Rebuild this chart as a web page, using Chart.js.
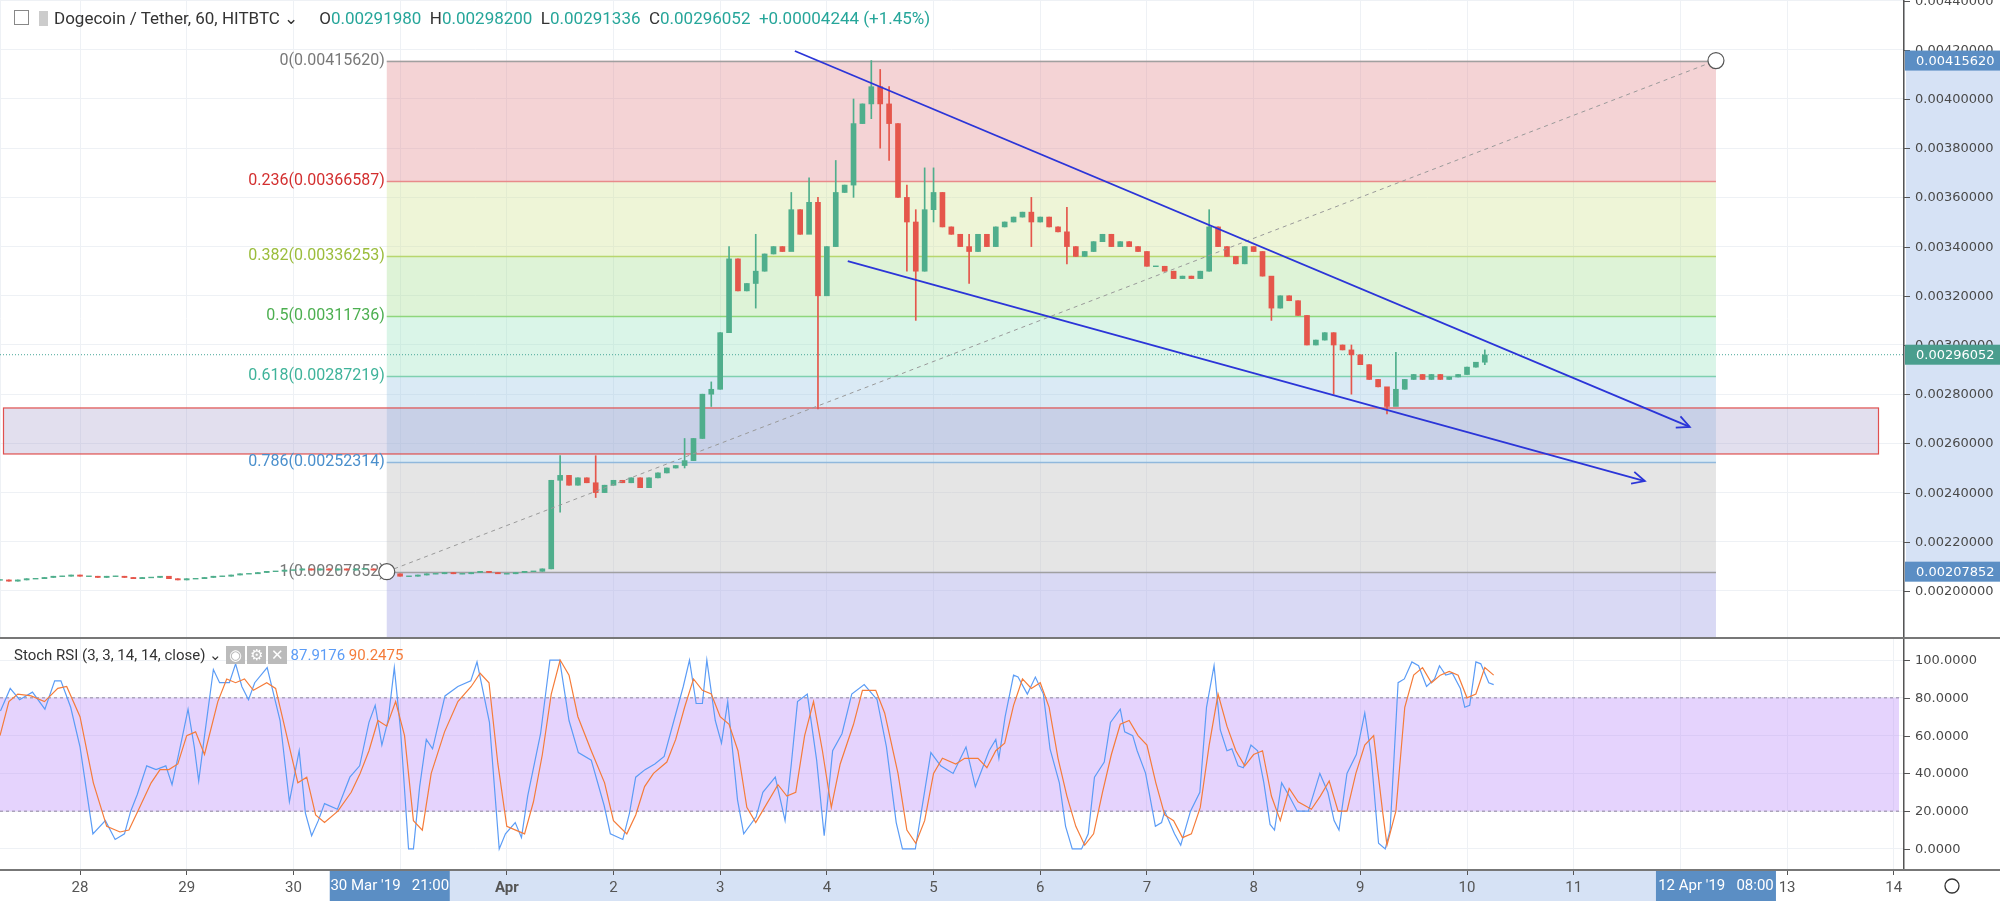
<!DOCTYPE html>
<html><head><meta charset="utf-8">
<script src="https://cdn.jsdelivr.net/npm/chart.js@4.4.1/dist/chart.umd.min.js"></script>
<style>
body{margin:0;background:#fff;width:2000px;height:901px;overflow:hidden;font-family:"Open Sans",Roboto,sans-serif;position:relative}
canvas{position:absolute;left:0}
#hdr{position:absolute;left:14px;top:8px;font-size:17px;color:#333;white-space:nowrap;font-family:Roboto,sans-serif}
#hdr .v{color:#26a69a}
#shdr{position:absolute;left:14px;top:646px;font-size:15px;color:#333;white-space:nowrap;font-family:Roboto,sans-serif}
</style></head><body>
<canvas id="main" width="2000" height="637" style="top:0"></canvas>
<canvas id="stoch" width="2000" height="264" style="top:637px"></canvas>
<div id="hdr"><span style="display:inline-block;width:13px;height:13px;border:1px solid #888;vertical-align:-1px;margin-right:10px"></span><span style="display:inline-block;width:9px;height:15px;background:#ccc;vertical-align:-2px;margin-right:6px"></span>Dogecoin / Tether, 60, HITBTC &#8964; &nbsp;&nbsp;&nbsp;&nbsp;O<span class="v">0.00291980</span> &nbsp;H<span class="v">0.00298200</span> &nbsp;L<span class="v">0.00291336</span> &nbsp;C<span class="v">0.00296052</span> &nbsp;<span class="v">+0.00004244 (+1.45%)</span></div>
<div id="shdr">Stoch RSI (3, 3, 14, 14, close) &#8964; <span style="background:#bbb;color:#fff;padding:0 3px">&#9673;</span><span style="background:#bbb;color:#fff;padding:0 3px;margin-left:2px">&#9881;</span><span style="background:#bbb;color:#fff;padding:0 3px;margin-left:2px">&#10005;</span> <span style="color:#5b9cf6">87.9176</span> <span style="color:#f57c3a">90.2475</span></div>
<script>
// ---- data ----
const candleStartHour = 6, candleStep = 2; // hours since 27 Mar 00:00
const closes = [
0.002045,0.00204,0.002045,0.00205,0.00205,0.002055,0.00206,0.00206,0.002065,0.00206,0.00206,0.002055,0.00206,0.00206,0.002055,0.00205,0.002055,0.002055,0.00206,0.00205,0.002045,0.00205,0.00205,0.002055,0.00206,0.00206,0.002065,0.00207,0.00207,0.002075,0.00208,0.00208,0.002085,0.002085,0.00209,0.002085,0.00209,0.002085,0.00209,0.002085,0.00209,0.00209,0.002085,0.00208,
0.00207,0.00206,0.00206,0.002065,0.00207,0.00207,0.002075,0.00207,0.00207,0.002075,0.00208,0.002075,0.00207,0.00207,0.002075,0.00208,0.00208,0.00209,
0.00245,0.00247,0.00243,0.00246,0.00244,0.00240,0.00243,0.00245,0.00244,0.00246,0.00242,0.00246,0.00248,0.00250,0.00251,0.00253,
0.00262,0.0028,0.00282,0.00305,0.00335,0.00322,0.00325,0.0033,0.00337,0.0034,0.00338,0.00355,0.00345,0.00358,0.0032,0.0034,0.00362,0.00365,0.0039,0.00398,
0.00405,0.00398,0.0039,0.0036,0.0035,0.0033,0.00355,0.00362,0.00348,0.00345,0.0034,0.00338,0.00345,0.0034,0.00348,0.0035,0.00352,0.00354,0.0035,0.00352,
0.00348,0.00346,0.0034,0.00336,0.00338,0.00342,0.00345,0.0034,0.00342,0.0034,0.00338,0.00332,0.00332,0.0033,0.00327,0.00328,0.00327,0.0033,0.00348,0.0034,
0.00336,0.00333,0.0034,0.00338,0.00328,0.00315,0.0032,0.00318,0.00312,0.003,0.00302,0.00305,0.003,0.00298,0.00296,0.00292,0.00286,0.00283,0.00275,0.00282,
0.00286,0.00288,0.00286,0.00288,0.00286,0.00287,0.00288,0.00291,0.00293,0.00296];
const wicks = [[132,0.00232,0.00255],[140,0.00238,0.00255],[160,0.00250,0.00262],[166,0.00275,0.00285],[170,0.00310,0.00340],[176,0.00315,0.00345],[184,0.00340,0.00362],[188,0.00350,0.00368],[190,0.00274,0.00360],[194,0.00340,0.00375],[198,0.00360,0.00400],[202,0.00392,0.0041562],[204,0.00380,0.00412],[206,0.00375,0.00405],[210,0.00330,0.00365],[212,0.00310,0.00355],[214,0.00330,0.00372],[216,0.00350,0.00372],[224,0.00325,0.00345],[238,0.00340,0.00360],[246,0.00333,0.00356],[278,0.00330,0.00355],[292,0.00310,0.00325],[306,0.00280,0.00305],[310,0.00280,0.00300],[318,0.00272,0.00280],[320,0.00276,0.00297],[340,0.00292,0.00298]];
const stochK = [[6.1,73],[8.3,85],[10.4,79],[13.3,83],[16.1,74],[18.3,89],[19.7,89],[21.9,75],[24,54],[26.9,8],[29.7,15],[31.9,5],[34,8],[35.4,20],[36.9,29],[39,44],[41.1,42],[43.3,44],[44.7,34],[46.9,58],[48.3,74],[49.7,54],[50.7,36],[51.9,58],[54,95],[55.4,88],[57.6,88],[59,98],[60.4,86],[61.9,79],[63.3,88],[66.1,96],[69,68],[71.1,25],[73.3,52],[74.7,19],[76.1,7],[77.6,15],[79,24],[81.9,21],[84.7,38],[86.9,44],[89,67],[90.4,76],[91.9,55],[93.3,68],[94.7,96],[96.1,63],[97.9,0],[99,0],[100.4,33],[101.9,58],[103.3,53],[106.1,81],[109,86],[111.9,89],[113.3,99],[116.1,67],[118.3,0],[119.7,8],[121.9,14],[123.3,6],[124.7,28],[127.6,61],[129.7,100],[131.9,100],[134,68],[136.1,51],[139,47],[141.9,23],[143.3,8],[146.1,5],[147.6,19],[149,38],[151.1,42],[153.3,45],[155.4,49],[157.6,68],[159.7,86],[161.1,100],[162.6,77],[164,77],[165,100],[166.9,68],[168.3,56],[169.7,78],[171.9,26],[173.3,8],[176.1,17],[177.6,30],[180.4,38],[182.6,15],[184,45],[185.4,78],[187.6,82],[189.7,47],[191.4,7],[193.3,52],[195.4,61],[197.6,82],[200.4,87],[203.3,79],[205.4,54],[207.6,14],[209,0],[211.9,0],[215.4,51],[217.6,44],[220.4,40],[223.3,54],[225.4,33],[228.5,52],[230,58],[230.7,48],[232.1,70],[234,92],[235,91],[237.1,82],[238.9,91],[240.7,82],[242.2,53],[244.3,35],[245.7,12],[247.2,0],[249.3,0],[250.8,8],[252.2,38],[254.4,46],[255.8,67],[258,74],[259,62],[260.8,60],[261.8,52],[263.7,40],[265.9,12],[267.3,14],[268,20],[270.2,8],[271.6,2],[273.8,20],[275.9,30],[277.4,75],[279.1,97],[280.5,63],[282,52],[283.1,53],[284.5,44],[285.7,43],[287.4,55],[288.9,52],[290.3,35],[291.7,13],[292.7,10],[294.3,35],[296,28],[297.8,20],[300.3,20],[302.9,40],[304.7,30],[306.1,15],[307.2,10],[309,40],[311.1,50],[313,72],[314.4,50],[316.1,3],[317.6,0],[318.7,10],[320.5,88],[321.9,90],[323.6,99],[325.1,97],[326.9,86],[328.7,90],[329.8,97],[331.2,92],[332.7,93],[334.5,85],[335.5,75],[336.6,76],[338,99],[339.1,98],[340.9,88],[342,87]];
const stochD = [[6,60],[8,78],[10,82],[13,81],[16,78],[19,85],[21,86],[24,70],[27,35],[30,12],[33,9],[35,10],[37,20],[40,35],[42,42],[44,42],[46,45],[48,60],[50,62],[52,50],[55,78],[57,90],[59,88],[61,90],[63,84],[66,88],[68,85],[71,55],[73,35],[75,38],[77,18],[79,14],[82,20],[85,30],[87,40],[89,52],[91,68],[93,65],[95,78],[97,60],[99,15],[101,10],[103,40],[106,62],[109,78],[112,86],[114,93],[116,88],[118,45],[120,12],[122,10],[124,8],[126,25],[128,50],[130,82],[132,100],[134,92],[136,70],[139,52],[142,35],[144,15],[147,8],[149,18],[151,33],[153,40],[156,46],[158,58],[160,75],[162,90],[164,84],[166,82],[168,70],[170,66],[172,52],[174,22],[176,14],[178,22],[181,34],[183,28],[185,30],[187,60],[189,78],[191,52],[193,22],[195,45],[198,66],[200,84],[203,84],[205,72],[208,40],[210,10],[212,3],[214,15],[216,40],[218,48],[221,45],[223,48],[226,48],[228,43],[230,52],[232,56],[234,76],[236,90],[238,85],[240,88],[242,75],[244,48],[246,28],[248,12],[250,2],[252,8],[254,30],[256,50],[258,66],[260,68],[262,60],[264,55],[266,35],[268,18],[270,15],[272,6],[274,8],[276,22],[278,55],[280,82],[282,65],[284,52],[286,44],[288,50],[290,52],[292,28],[294,15],[296,32],[298,25],[301,21],[303,28],[305,36],[307,20],[309,20],[311,40],[313,55],[315,60],[317,20],[318,2],[320,20],[322,75],[324,92],[326,96],[328,88],[330,92],[332,94],[334,92],[336,80],[338,82],[340,96],[342,92]];
const priceTicks = [0.0020,0.0022,0.0024,0.0026,0.0028,0.0030,0.0032,0.0034,0.0036,0.0038,0.0040,0.0042,0.0044];
const stochTicks = [0,20,40,60,80,100];
const fibLevels = [0,0.236,0.382,0.5,0.618,0.786,1];
const fibHigh = 0.0041562, fibLow = 0.00207852;
const fibStartHour = 93, fibEndHour = 392;
const lastPrice = 0.00296052;
const zoneBox = [0.002557, 0.002744];
const upperTrend = [[184.8,0.004195],[386.1,0.002667]];
const lowerTrend = [[196.7,0.003341],[376,0.002447]];
const dayNames = {1:'28',2:'29',3:'30',5:'Apr'};

// ---- build ----
const bodies=[], wickData=[], colors=[];
const wmap = {}; wicks.forEach(w=>wmap[w[0]]=w);
closes.forEach((c,i)=>{
  const h = candleStartHour + i*candleStep;
  const o = i===0 ? c : closes[i-1];
  const up = c>=o;
  colors.push(up?'#4fae8c':'#e5564b');
  bodies.push({x:h, y: o===c ? [o-0.0000015,c+0.0000015] : [o,c]});
  const w = wmap[h];
  wickData.push({x:h, y: w ? [w[1],w[2]] : [Math.min(o,c),Math.max(o,c)]});
});
const XMIN=6.0, XMAX=434.3, YW=96;
const AXFONT='13px "DejaVu Sans"';
function dayLabel(v){ const d=Math.round(v/24); if(dayNames[d]) return dayNames[d]; if(d>=6) return String(d-4); return ''; }

const fibFills=['rgba(226,140,145,0.38)','rgba(211,228,150,0.38)','rgba(160,220,140,0.35)','rgba(150,225,190,0.35)','rgba(150,195,225,0.35)','rgba(190,190,190,0.4)'];
const fibLine=['#a0a0a0','#e88a8a','#b8d66e','#8ed67c','#7fd0b0','#90b8dc','#a0a0a0'];
const fibText=['#787878','#d32f2f','#9bbd3c','#4caf50','#3fb39a','#4a8fcc','#787878'];

function yLabels(ch, ticks, fmt){
  const {ctx, scales:{y}, chartArea:a}=ch; ctx.save();
  ctx.font=AXFONT; ctx.fillStyle='#4a4a4a'; ctx.textAlign='left'; ctx.textBaseline='middle';
  ctx.strokeStyle='#555'; ctx.lineWidth=1;
  ticks.forEach(v=>{const yy=Math.round(y.getPixelForValue(v))+0.5; ctx.beginPath(); ctx.moveTo(a.right,yy); ctx.lineTo(a.right+6,yy); ctx.stroke(); ctx.fillText(fmt(v),a.right+11,yy);});
  ctx.restore();
}
const overlay = {
  id:'overlay',
  beforeDatasetsDraw(ch){
    const {ctx, scales:{x,y}, chartArea:a} = ch;
    ctx.save();
    const x0=x.getPixelForValue(fibStartHour), x1=x.getPixelForValue(fibEndHour);
    const lp = r=>fibHigh-r*(fibHigh-fibLow);
    for(let i=0;i<6;i++){
      const ya=y.getPixelForValue(lp(fibLevels[i])), yb=y.getPixelForValue(lp(fibLevels[i+1]));
      ctx.fillStyle=fibFills[i]; ctx.fillRect(x0,ya,x1-x0,yb-ya);
    }
    const yb1=y.getPixelForValue(fibLow);
    ctx.fillStyle='rgba(170,170,230,0.45)'; ctx.fillRect(x0,yb1,x1-x0,a.bottom-yb1);
    const zy0=y.getPixelForValue(zoneBox[1]), zy1=y.getPixelForValue(zoneBox[0]);
    ctx.fillStyle='rgba(160,150,200,0.3)'; ctx.fillRect(3,zy0,1875,zy1-zy0);
    ctx.strokeStyle='#e0504f'; ctx.lineWidth=1.2; ctx.strokeRect(3.5,zy0,1875,zy1-zy0);
    fibLevels.forEach((r,i)=>{
      const yy=Math.round(y.getPixelForValue(lp(r)))+0.5;
      ctx.strokeStyle=fibLine[i]; ctx.lineWidth=1.5; ctx.beginPath(); ctx.moveTo(x0,yy); ctx.lineTo(x1,yy); ctx.stroke();
      ctx.fillStyle=fibText[i]; ctx.font='16px Roboto'; ctx.textAlign='right'; ctx.textBaseline='middle';
      ctx.fillText(r+'('+lp(r).toFixed(8)+')', x0-2, yy-1);
    });
    const ly=y.getPixelForValue(lastPrice);
    ctx.setLineDash([1,2]); ctx.strokeStyle='#4aa89a'; ctx.lineWidth=1;
    ctx.beginPath(); ctx.moveTo(0,ly); ctx.lineTo(a.right,ly); ctx.stroke();
    ctx.restore();
  },
  afterDatasetsDraw(ch){
    const {ctx, scales:{x,y}, chartArea:a} = ch;
    ctx.save();
    const p0=[x.getPixelForValue(fibStartHour),y.getPixelForValue(fibLow)], p1=[x.getPixelForValue(fibEndHour),y.getPixelForValue(fibHigh)];
    ctx.setLineDash([4,4]); ctx.strokeStyle='#999'; ctx.lineWidth=1;
    ctx.beginPath(); ctx.moveTo(p0[0],p0[1]); ctx.lineTo(p1[0],p1[1]); ctx.stroke(); ctx.setLineDash([]);
    [p0,p1].forEach(p=>{ctx.beginPath(); ctx.arc(p[0],p[1],8,0,Math.PI*2); ctx.fillStyle='#fff'; ctx.fill(); ctx.strokeStyle='#555'; ctx.lineWidth=1.2; ctx.stroke();});
    [upperTrend,lowerTrend].forEach(t=>{
      const ax=x.getPixelForValue(t[0][0]), ay=y.getPixelForValue(t[0][1]);
      const bx=x.getPixelForValue(t[1][0]), by=y.getPixelForValue(t[1][1]);
      ctx.strokeStyle='#2b35d8'; ctx.lineWidth=1.8;
      ctx.beginPath(); ctx.moveTo(ax,ay); ctx.lineTo(bx,by); ctx.stroke();
      const ang=Math.atan2(by-ay,bx-ax), L=14;
      ctx.beginPath(); ctx.moveTo(bx-L*Math.cos(ang-0.45),by-L*Math.sin(ang-0.45)); ctx.lineTo(bx,by); ctx.lineTo(bx-L*Math.cos(ang+0.45),by-L*Math.sin(ang+0.45)); ctx.stroke();
    });
    const ax0=a.right+1;
    const yh=y.getPixelForValue(fibHigh), yl=y.getPixelForValue(fibLow);
    ctx.fillStyle='#d6e2f5'; ctx.fillRect(ax0+1,yh,2000-ax0,yl-yh);
    ctx.restore();
    yLabels(ch, priceTicks, v=>v.toFixed(8));
    ctx.save();
    const tag=(v,c)=>{const yy=y.getPixelForValue(v); ctx.fillStyle=c; ctx.fillRect(ax0,yy-10,2000-ax0,20); ctx.fillStyle='#fff'; ctx.font=AXFONT; ctx.textAlign='left'; ctx.textBaseline='middle'; ctx.fillText(v.toFixed(8),ax0+11,yy+1);};
    tag(fibHigh,'#5b8ec4'); tag(fibLow,'#5b8ec4'); tag(lastPrice,'#4a9e8e');
    ctx.restore();
  }
};
const fitY = s=>{s.width=YW;};
new Chart(document.getElementById('main'),{
  data:{datasets:[
    {type:'bar',data:wickData,backgroundColor:colors,barThickness:1,grouped:false,order:2},
    {type:'bar',data:bodies,backgroundColor:colors,barThickness:5,grouped:false,order:1}
  ]},
  options:{responsive:false,animation:false,devicePixelRatio:1,
    layout:{padding:0},
    plugins:{legend:{display:false},tooltip:{enabled:false}},
    scales:{
      x:{type:'linear',offset:false,min:XMIN,max:XMAX,ticks:{display:false,stepSize:24},grid:{color:'#eef1f5',drawTicks:false,offset:false},border:{display:false},afterFit:s=>{s.height=0;}},
      y:{position:'right',min:0.001813,max:0.0044024,afterFit:fitY,
        afterBuildTicks:s=>{s.ticks=priceTicks.map(v=>({value:v}));},
        ticks:{display:false},
        grid:{color:'#eef1f5',drawTicks:false},border:{color:'#555',width:1.5}}
    }},
  plugins:[overlay]
});

const stochPlug = {
  id:'sp',
  beforeDatasetsDraw(ch){
    const {ctx, scales:{x,y}, chartArea:a}=ch; ctx.save();
    const y80=y.getPixelForValue(80), y20=y.getPixelForValue(20);
    ctx.fillStyle='rgba(180,130,250,0.35)'; ctx.fillRect(a.left,y80,a.right-a.left-5,y20-y80);
    ctx.setLineDash([3,3]); ctx.strokeStyle='#8e84a0'; ctx.lineWidth=1;
    [y80,y20].forEach(yy=>{ctx.beginPath(); ctx.moveTo(a.left,yy); ctx.lineTo(a.right-5,yy); ctx.stroke();});
    ctx.restore();
  },
  afterDraw(ch){
    const {ctx, scales:{x}, chartArea:a}=ch;
    yLabels(ch, stochTicks, v=>v.toFixed(4));
    ctx.save();
    ctx.strokeStyle='#777'; ctx.lineWidth=2; ctx.beginPath(); ctx.moveTo(0,1); ctx.lineTo(2000,1); ctx.stroke();
    ctx.beginPath(); ctx.moveTo(0,a.bottom+1); ctx.lineTo(2000,a.bottom+1); ctx.stroke();
    const x0=x.getPixelForValue(fibStartHour), x1=x.getPixelForValue(fibEndHour);
    ctx.globalCompositeOperation='destination-over';
    ctx.fillStyle='#d6e2f5'; ctx.fillRect(x0,a.bottom+2,x1-x0,40);
    ctx.globalCompositeOperation='source-over';
    const lab=(cx,t)=>{ctx.fillStyle='#5b8ec4'; ctx.fillRect(cx-60,a.bottom+2,120,30); ctx.fillStyle='#fff'; ctx.font='15px Roboto'; ctx.textAlign='center'; ctx.textBaseline='middle'; ctx.fillText(t,cx,a.bottom+17);};
    lab(x0+3,"30 Mar '19   21:00"); lab(x1,"12 Apr '19   08:00");
    ctx.fillStyle='#fff'; ctx.fillRect(a.right+2,a.bottom+2,100,30);
    ctx.strokeStyle='#333'; ctx.lineWidth=1.3; ctx.beginPath(); ctx.arc(1952,a.bottom+17,7,0,Math.PI*2); ctx.stroke();
    ctx.restore();
  }
};
new Chart(document.getElementById('stoch'),{
  type:'line',
  data:{datasets:[
    {data:stochD.map(p=>({x:p[0],y:p[1]})),borderColor:'#f57c3a',borderWidth:1.2,pointRadius:0,tension:0},
    {data:stochK.map(p=>({x:p[0],y:p[1]})),borderColor:'#5b9cf6',borderWidth:1.2,pointRadius:0,tension:0}
  ]},
  options:{responsive:false,animation:false,devicePixelRatio:1,layout:{padding:0},
    plugins:{legend:{display:false},tooltip:{enabled:false}},
    scales:{
      x:{type:'linear',min:XMIN,max:XMAX,afterFit:s=>{s.height=32;},
        afterBuildTicks:s=>{const t=[];for(let v=24;v<=XMAX;v+=24)t.push({value:v});s.ticks=t;},
        ticks:{autoSkip:false,maxRotation:0,color:'#555',font:c=>({size:15,family:'Roboto',weight:c.tick&&Math.round(c.tick.value/24)===5?'bold':'normal'}),callback:v=>dayLabel(v),padding:4},
        grid:{color:'#eef1f5',tickLength:6,tickColor:'#555'},border:{display:false}},
      y:{position:'right',min:-10.6,max:112.2,afterFit:fitY,
        afterBuildTicks:s=>{s.ticks=stochTicks.map(v=>({value:v}));},
        ticks:{display:false},
        grid:{color:'#eef1f5',drawTicks:false},border:{color:'#555',width:1.5}}
    }},
  plugins:[stochPlug]
});
</script></body></html>
